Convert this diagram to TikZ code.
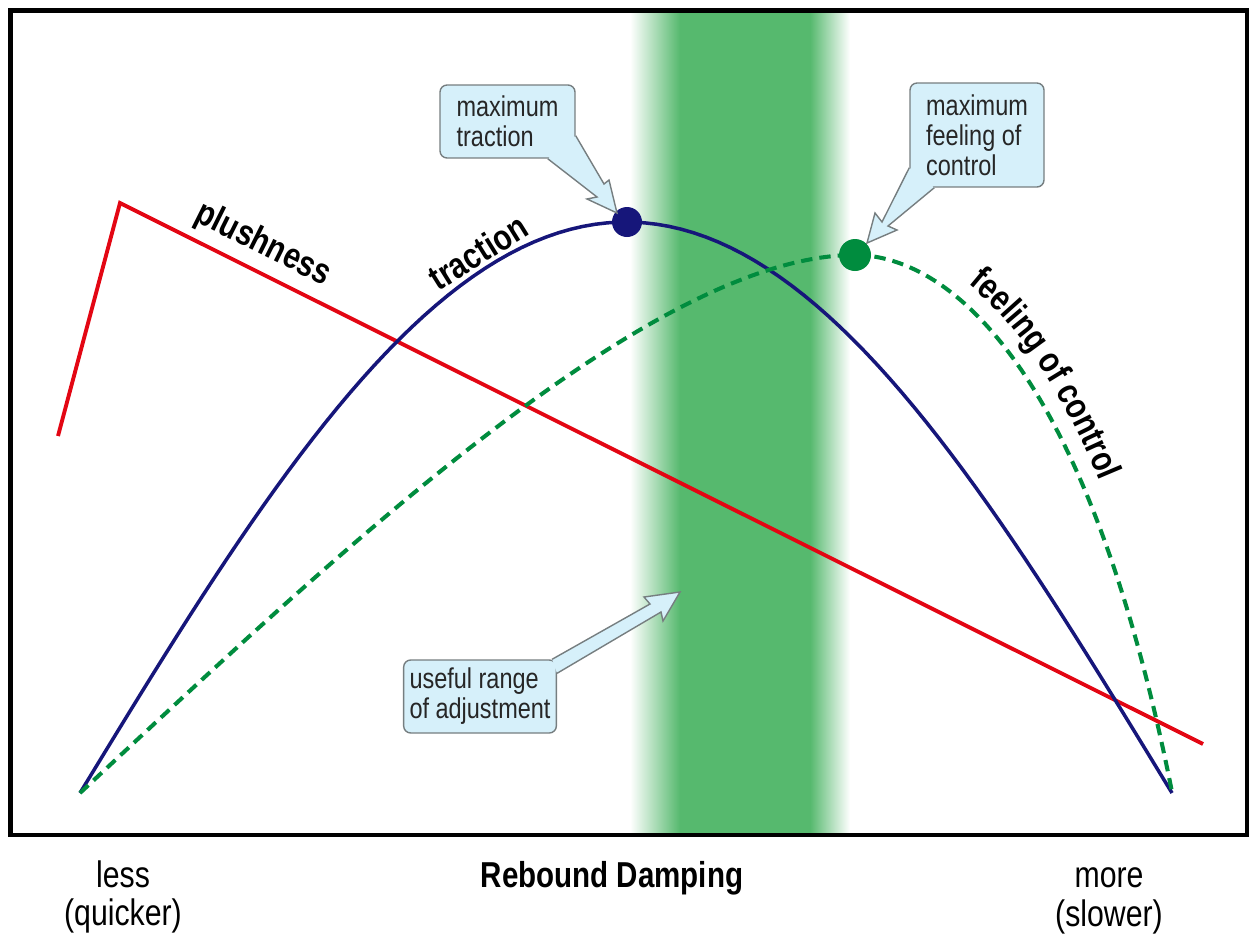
\documentclass[tikz,border=0pt]{standalone}
\usepackage{fontspec}
\setmainfont{Liberation Sans}[FakeStretch=0.82]
\usetikzlibrary{calc, decorations.text}
\definecolor{plushred}{RGB}{227,6,19}
\definecolor{tractnavy}{RGB}{22,22,122}
\definecolor{ctrlgreen}{RGB}{0,140,62}
\definecolor{bandgreen}{RGB}{86,185,110}
\definecolor{callfill}{RGB}{214,240,250}
\definecolor{callline}{RGB}{118,126,128}

\begin{document}
\begin{tikzpicture}[x=0.02cm, y=-0.02cm,
  callout/.style={draw=callline, line width=0.8pt, fill=callfill, rounded corners=4pt, align=left, text=black!85, font=\fontsize{16.3}{17}\selectfont},
  curvelabel/.style={font=\bfseries\fontsize{20.5}{24}\selectfont, inner sep=0pt},
  axislabel/.style={align=center, font=\fontsize{21}{22}\selectfont}]
  \useasboundingbox (0,0) rectangle (1250,933);

  % useful range band
  \fill[bandgreen] (680,13) rectangle (810,833);
  \shade[left color=white, right color=bandgreen] (630,13) rectangle (680,833);
  \shade[left color=bandgreen, right color=white] (810,13) rectangle (850,833);

  % frame
  \draw[line width=2.8pt] (10.5,10.5) rectangle (1247,835);

  % curves
  \draw[plushred, line width=2.2pt] (58,436) -- (120,203) -- (1203,744);
  \draw[tractnavy, line width=2pt] plot[domain=0:180, samples=90] ({80+6.0667*\x},{793-571*sin(\x)});
  \draw[ctrlgreen, line width=2.3pt, dash pattern=on 6.5pt off 4pt]
    (80,793) .. controls (330,560) and (650,255) .. (855,255)
             .. controls (930,255) and (1080,330) .. (1172,792);

  % maxima
  \fill[tractnavy] (627,222) circle (15);
  \fill[ctrlgreen] (855,255) circle (16);

  % curve labels
  \node[curvelabel, rotate=-26.5] (plush) at (263,245) {plushness};
  \node[curvelabel, rotate=32] (tract) at (478,252) {traction};
  \path[decorate, decoration={text along path, text align={left indent=62pt},
      text={|\bfseries\fontsize{20.5}{24}\selectfont|feeling of control}}]
    (869,244) .. controls (944,244) and (1094,319) .. (1186,781);

  % callouts
  \node[callout, minimum width=2.7cm, minimum height=1.46cm] (maxtr) at (507.5,121.5) {maximum\\traction};
  \fill[callfill] ($(maxtr.south east)+(-28,0)$) -- (597,197) -- (587,199) -- (617,213) -- (609,180) -- (604,184) -- ($(maxtr.south east)+(0,-23)$) -- cycle;
  \draw[callline, line width=0.8pt] ($(maxtr.south east)+(-28,0)$) -- (597,197) -- (587,199) -- (617,213) -- (609,180) -- (604,184) -- ($(maxtr.south east)+(0,-23)$);

  \node[callout, minimum width=2.68cm, minimum height=2.08cm] (maxctrl) at (977,135) {maximum\\feeling of\\control};
  \fill[callfill] ($(maxctrl.south west)+(25,0)$) -- (888,226) -- (897,230) -- (867,243) -- (875,213) -- (882,222) -- ($(maxctrl.south west)+(0,-20)$) -- cycle;
  \draw[callline, line width=0.8pt] ($(maxctrl.south west)+(25,0)$) -- (888,226) -- (897,230) -- (867,243) -- (875,213) -- (882,222) -- ($(maxctrl.south west)+(0,-20)$);

  \node[callout, minimum width=3cm, minimum height=1.46cm] (useful) at (480,696.5) {useful range\\of adjustment};
  \fill[callfill] ($(useful.north east)+(-5,0)$) -- (650,604) -- (644,597) -- (680,592) -- (663,621) -- (661,612) -- ($(useful.north east)+(0,14)$) -- cycle;
  \draw[callline, line width=0.8pt] ($(useful.north east)+(-5,0)$) -- (650,604) -- (644,597) -- (680,592) -- (663,621) -- (661,612) -- ($(useful.north east)+(0,14)$);

  % axis labels
  \node[axislabel] (less) at (123,897) {less\\(quicker)};
  \node[axislabel] (more) at (1109,901) {more\\(slower)};
  \node[font=\bfseries\fontsize{20.5}{24}\selectfont, anchor=base] (rebound) at (612,887) {Rebound Damping};
\end{tikzpicture}
\end{document}
